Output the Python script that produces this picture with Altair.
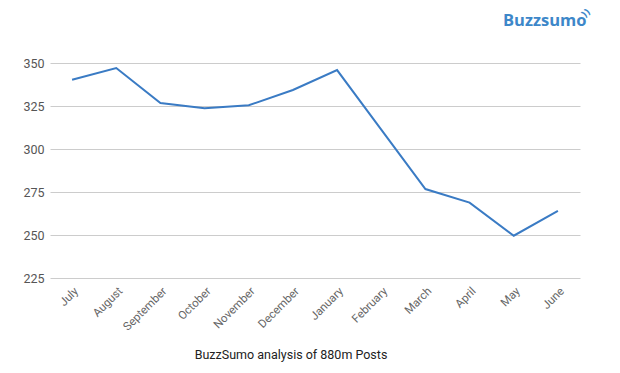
import altair as alt
import pandas as pd

months = ["July", "August", "September", "October", "November", "December",
          "January", "February", "March", "April", "May", "June"]
values = [340.3, 347.1, 326.7, 323.7, 325.4, 334.3, 345.9, 311.3, 276.7, 268.8, 249.6, 264.0]
y_ticks = [225, 250, 275, 300, 325, 350]

df = pd.DataFrame({"month": months, "value": values})

line = alt.Chart(df).mark_line(color="#3a7bc4", strokeWidth=2).encode(
    x=alt.X("month:N", sort=months, title=None,
            scale=alt.Scale(type="point", padding=0.5),
            axis=alt.Axis(labelAngle=-45, ticks=False, domain=False, grid=False,
                          labelColor="#666", labelFontSize=11.5, labelFont="Roboto",
                          labelPadding=7)),
    y=alt.Y("value:Q", title=None,
            scale=alt.Scale(domain=[225, 350], nice=False, zero=False),
            axis=alt.Axis(values=y_ticks, ticks=False, domain=False,
                          gridColor="#cccccc", gridWidth=1,
                          labelColor="#555", labelFontSize=12.5, labelFont="Roboto",
                          labelPadding=6)),
)

logo = alt.Chart(pd.DataFrame({"t": ["Buzzsumo"]})).mark_text(
    font="Open Sans", fontSize=16.5, fontWeight="bold", color="#3d87c9", align="left",
    baseline="middle"
).encode(text="t:N", x=alt.value(453), y=alt.value(-42))

icon = alt.Chart(pd.DataFrame({"t": ["\u0029\u0029"]})).mark_text(
    font="DejaVu Sans", fontSize=9, fontWeight="bold", color="#3d87c9", align="left",
    baseline="middle", angle=315
).encode(text="t:N", x=alt.value(533), y=alt.value(-47))

chart = alt.layer(line, logo, icon).properties(
    width=530, height=215,
    padding={"left": 42, "top": 55, "right": 30, "bottom": 85},
    autosize=alt.AutoSizeParams(type="none"),
    title=alt.TitleParams("BuzzSumo analysis of 880m Posts", orient="bottom",
                          anchor="middle", dx=-24, offset=16, fontSize=12.5,
                          fontWeight="normal", font="Roboto", color="#222"),
).configure_view(stroke=None)

chart.save("out.html", embed_options={"renderer": "svg", "actions": False})
